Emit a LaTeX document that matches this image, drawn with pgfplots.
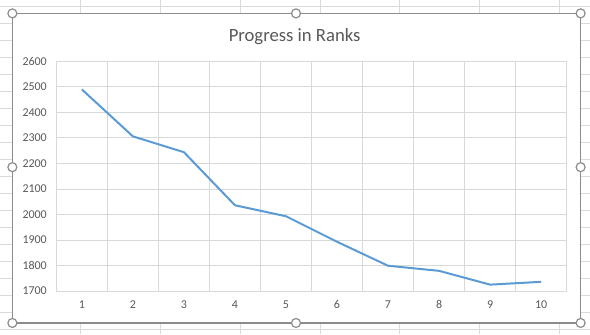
\documentclass[border=0pt]{standalone}
\usepackage{pgfplots}
\pgfplotsset{compat=1.18}
\usepackage{fontspec}
\setmainfont{Carlito}
\definecolor{txtgray}{RGB}{89,89,89}
\definecolor{gridgray}{RGB}{217,217,217}
\definecolor{xlblue}{RGB}{91,155,213}
\definecolor{cellgray}{RGB}{218,218,218}
\definecolor{framegray}{RGB}{140,140,140}
\begin{document}
\begin{tikzpicture}[x=1bp,y=1bp]
% background sheet
\fill[white] (0,0) rectangle (590,334);
\foreach \xx in {80,160,240,320,400,480,560} {\draw[cellgray,line width=0.8bp] (\xx,0) -- (\xx,334);}
\foreach \k in {0,...,19} {\draw[cellgray,line width=0.8bp] (0,{334-6-17*\k}) -- (590,{334-6-17*\k});}
% chart area
\fill[white] (12,11) rectangle (581,321);
\begin{axis}[
  at={(56bp,43bp)}, anchor=south west,
  scale only axis, width=511bp, height=230bp,
  xmin=0.5, xmax=10.5, ymin=1700, ymax=2600,
  xtick={1,...,10}, ytick={1700,1800,...,2600},
  minor xtick={0.5,1.5,...,10.5},
  xminorgrids=true, ymajorgrids=true, xmajorgrids=false,
  grid style={gridgray, line width=0.8bp},
  minor grid style={gridgray, line width=0.8bp},
  axis line style={gridgray, line width=0.8bp},
  major tick length=0pt, minor tick length=0pt,
  tick style={draw=none},
  /pgf/number format/assume math mode=true,
  /pgf/number format/set thousands separator={},
  tick label style={font=\fontsize{12bp}{14bp}\selectfont, text=txtgray},
  yticklabel style={xshift=-6bp},
  xticklabel style={yshift=-6bp},
  title={Progress in Ranks},
  title style={font=\fontsize{18.7bp}{22bp}\selectfont, text=txtgray, at={(0.467,1)}, yshift=7bp},
]
\addplot[xlblue, line width=2bp] coordinates {
(1,2490) (2,2306) (3,2244) (4,2036) (5,1993) (6,1893) (7,1799) (8,1779) (9,1725) (10,1736)
};
\end{axis}
\draw[framegray, line width=1.4bp] (12,11) rectangle (581,321);
\foreach \p in {(12,321),(296,321),(581,321),(12,167),(581,167),(12,11),(296,11),(581,11)} {
  \draw[framegray, fill=white, line width=1.2bp] \p circle (4.5);
}
\end{tikzpicture}
\end{document}
